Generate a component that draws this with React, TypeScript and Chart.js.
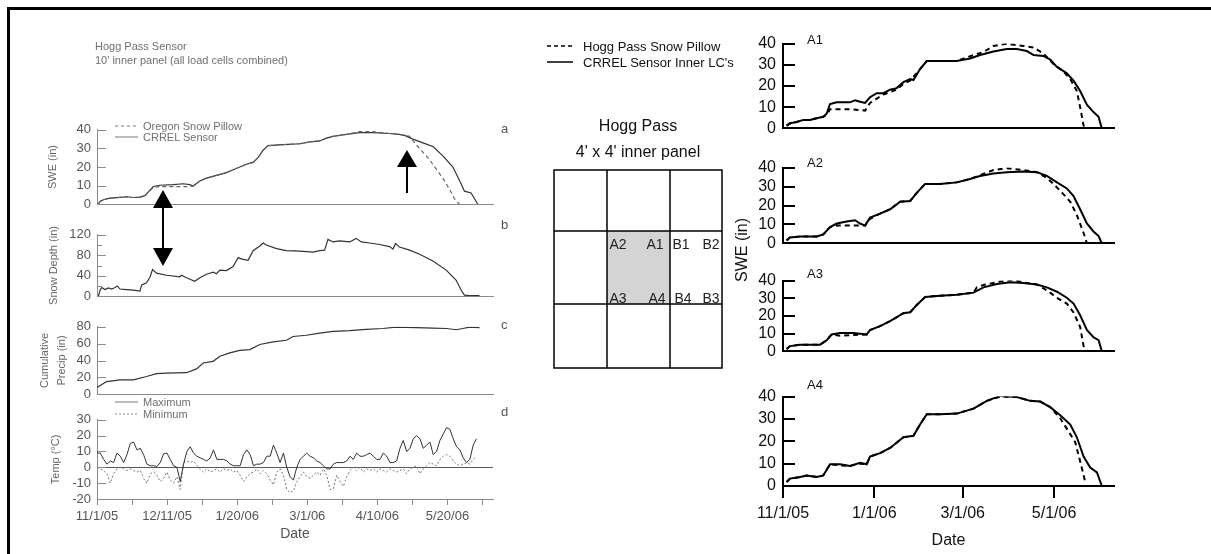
import React, { useEffect, useRef } from "react";
import { Chart, registerables } from "chart.js";

Chart.register(...registerables);

const FONT = "'Liberation Sans', Arial, Helvetica, sans-serif";
Chart.defaults.font.family = FONT;

// ---------------- Left panels (x = days since 11/1/05) ----------------
const leftTickDays = [0, 20, 40, 60, 80, 100, 120, 140, 160, 180, 200, 220];
const leftTickLabels = ["11/1/05", "", "12/11/05", "", "1/20/06", "", "3/1/06", "", "4/10/06", "", "5/20/06", ""];
const LEFT_MAX_DAY = 226;

const sweDaysCrrel = [0.8, 1.7, 3.6, 7.4, 13.1, 16.9, 20.7, 24.5, 27.4, 29.2, 32.1, 35.9, 43.5, 49.2, 53.0, 54.9, 58.7, 62.5, 68.2, 73.9, 77.7, 81.5, 85.3, 89.1, 91.9, 94.8, 97.6, 106.2, 115.7, 121.4, 127.1, 130.9, 134.7, 142.3, 149.9, 157.5, 167.0, 172.7, 175.5, 180.3, 186.0, 191.7, 197.4, 203.1, 207.8, 209.7, 213.5, 217.3];
const sweCrrel = [0, 1.5, 2.4, 3.3, 3.7, 4.0, 3.6, 3.8, 4.6, 6.5, 9.5, 10.2, 10.5, 11.0, 10.5, 9.8, 12.5, 14.0, 15.5, 17.0, 18.5, 20.0, 21.5, 22.5, 25.0, 29.0, 31.5, 32.0, 32.5, 33.5, 34.0, 35.5, 36.5, 37.5, 38.5, 38.5, 38.0, 37.5, 37.0, 35.0, 33.0, 31.0, 26.0, 20.0, 11.0, 7.0, 6.0, 0];
const sweDaysOregon = [0.8, 1.7, 3.6, 7.4, 13.1, 16.9, 20.7, 24.5, 27.4, 29.2, 32.1, 35.9, 43.5, 49.2, 53.0, 54.9, 58.7, 62.5, 68.2, 73.9, 77.7, 81.5, 85.3, 89.1, 91.9, 94.8, 97.6, 106.2, 115.7, 121.4, 127.1, 130.9, 134.7, 142.3, 149.9, 157.5, 167.0, 172.7, 178.4, 182.1, 186.0, 189.7, 193.5, 197.4, 201.2, 204.0, 206.8];
const sweOregon = [0, 1.5, 2.4, 3.3, 3.7, 4.0, 3.6, 3.8, 4.6, 6.5, 9.0, 9.5, 9.5, 9.5, 9.5, 9.8, 12.5, 14.0, 15.5, 17.0, 18.5, 20.0, 21.5, 22.5, 25.0, 29.0, 31.5, 32.0, 32.5, 33.5, 34.0, 35.5, 36.5, 37.5, 39.0, 39.0, 38.0, 37.5, 36.5, 32, 28, 24, 19, 14, 8, 3, 0];

const depthDays = [0.8, 1.7, 2.7, 4.6, 6.5, 8.4, 10.3, 11.6, 13.1, 16.9, 20.7, 24.5, 25.5, 28.3, 30.2, 31.7, 34.0, 39.7, 47.3, 48.2, 51.1, 55.8, 58.7, 62.5, 66.3, 68.2, 70.1, 73.9, 77.7, 80.5, 83.4, 86.2, 89.1, 92.9, 94.8, 96.7, 102.4, 108.1, 115.7, 123.3, 127.1, 129.9, 131.8, 134.7, 138.5, 144.2, 147.9, 150.8, 155.6, 161.3, 167.0, 168.9, 170.4, 172.6, 178.4, 184.1, 191.7, 199.3, 205.0, 207.8, 209.7, 212.6, 218.3];
const snowDepth = [0, 11, 17, 13, 16, 14, 17, 20, 14, 13, 12, 10, 22, 26, 37, 52, 45, 41, 38, 41, 36, 29, 36, 43, 47, 44, 51, 50, 58, 75, 72, 70, 89, 98, 104, 100, 93, 89, 88, 86, 89, 90, 111, 106, 108, 106, 113, 106, 104, 101, 97, 92, 103, 96, 90, 82, 69, 51, 31, 12, 2, 1, 1];

const precipDays = [0, 5.5, 13.1, 20.7, 28.3, 34.0, 39.7, 51.1, 56.8, 60.6, 66.3, 70.1, 75.8, 81.5, 87.2, 92.9, 100.5, 108.1, 111.9, 119.5, 127.1, 134.7, 144.2, 153.7, 163.1, 170.8, 182.1, 191.7, 199.3, 205.0, 208.8, 212.6, 218.3];
const cumPrecip = [8, 15, 17, 17, 21, 24.5, 25, 25.5, 30, 37, 39, 45, 49, 52, 53, 59, 62, 64, 68.5, 70, 72.5, 74.5, 75.5, 77, 78, 79.5, 79, 78.5, 78, 76.5, 78, 79.5, 79];

const tempStepDays = 1.9;
const tempMax = [9, 9, 5, 2, 4, 3, 9, 7, 3, 8, 15, 16, 11, 12, 8, 2, 1, 1, 0.5, 3, 8.5, 9, 5, 1, 0, -9, 2, 10, 13, 9, 7, 6, 5, 4, 6, 11, 5, 5, 5, 4, 2, 1, 1, 1, 8, 11, 8, 1, 2, 2, 3, 7, 7, 14, 9, 3, 9, 0, -6, -8, 0, 5, 7, 9, 7, 6, 4, 3, 1, -1, -1, 2, 3, 3, 3, 4, 7, 5, 9, 7, 7, 8, 9, 7, 5, 5, 9, 7, 3, 3, 4, 12, 17, 10, 12, 18, 20, 18, 12, 14, 16, 8, 10, 17, 21, 25, 24, 18, 13, 11, 6, 3, 5, 14, 18];
const tempMin = [0, -1, -2, -4, -10, -4, -1, 0, -1, -2, -1, -2, -3, -2, -7, -10, -4, -3, -5, -9, -7, -3, -8, -10, -6, -14, 3, 4, 3, 4, 1, -1, -3, -1, -3, -2, -1, -3, -1, -2, -1, -3, -2, -5, -9, -6, -4, -3, -1, -4, -2, -4, -8, -11, -3, -1, -5, -14, -16, -15, -9, -6, -3, -6, -7, -5, -3, -5, -1, -5, -14, -13.5, -5, -9, -12, -6, -2, 0, -2, 0, -3, -1, -2, -1, -3, -1, -2, -3, -1, -2, -3, -2, -1, -4, -1, 0, 1, -4, -1, 1, 3, 2, 1, 5, 7, 8, 7, 4, 2, 1, 2, 3, 2, 5, 7];
const tempDays = tempMax.map((_, i) => i * tempStepDays);

// ---------------- Right panels ----------------
const rightTickDays = [0, 61, 120, 181];
const rightTickLabels = ["11/1/05", "1/1/06", "3/1/06", "5/1/06"];
const RIGHT_MAX_DAY = 221;

const a1SensorDays = [2.4, 4.7, 9.1, 13.6, 18.0, 22.5, 26.9, 29.2, 31.4, 35.9, 44.8, 48.1, 51.4, 54.8, 58.1, 62.6, 67.0, 71.5, 75.9, 80.4, 84.9, 87.1, 91.5, 96.0, 104.9, 116.0, 124.9, 131.6, 140.5, 149.4, 156.1, 162.8, 167.3, 173.9, 178.4, 182.9, 189.5, 194.0, 198.4, 202.9, 207.3, 210.7, 212.9];
const a1Sensor = [1.3, 2.4, 3, 4, 4, 4.8, 5.5, 7, 11.5, 12.3, 12.3, 13.3, 12.6, 12, 14.7, 16.6, 16.6, 18.3, 19, 21.8, 23.3, 22.8, 28, 31.8, 31.8, 31.8, 33, 34.6, 36.3, 37.4, 37.4, 36.5, 34.6, 34.2, 32.5, 29, 26, 22.5, 17.6, 11.2, 7.7, 5.5, 0];
const a1PillowDays = [2.4, 4.7, 9.1, 13.6, 18.0, 22.5, 26.9, 29.2, 31.4, 44.8, 54.8, 58.1, 62.6, 67.0, 75.9, 80.4, 84.9, 91.5, 96.0, 116.0, 127.2, 133.9, 140.5, 149.4, 160.6, 167.3, 173.9, 180.6, 187.3, 191.8, 196.2, 198.4, 200.7, 201.8];
const a1Pillow = [1.3, 2.4, 3, 4, 4, 4.8, 5.5, 6.5, 9, 9, 8.4, 12, 14, 16, 18.3, 21, 22.5, 28, 31.8, 31.8, 34.6, 36, 38.9, 39.9, 38.9, 38.2, 35.3, 30.4, 26.8, 23.3, 17.6, 10, 1.3, 0];

const a2SensorDays = [2.4, 4.7, 11.4, 22.5, 26.9, 31.4, 35.9, 42.5, 48.1, 51.4, 54.8, 58.1, 64.8, 71.5, 78.2, 84.9, 89.3, 94.9, 104.9, 116.0, 124.9, 131.6, 140.5, 149.4, 160.6, 169.5, 176.2, 182.9, 189.5, 194.0, 198.4, 202.9, 207.3, 210.7, 212.9];
const a2Sensor = [1.6, 3.1, 3.6, 3.6, 4.7, 8.6, 10.5, 11.5, 12.2, 10.5, 9.4, 13.6, 15.7, 18, 22, 22.4, 26.7, 31.4, 31.4, 32.2, 34, 35.6, 36.9, 37.6, 38, 37.6, 35.6, 32.2, 29, 25, 18, 10.5, 6.3, 3.9, 0];
const a2PillowDays = [2.4, 4.7, 11.4, 22.5, 26.9, 31.4, 35.9, 47.0, 54.8, 58.1, 64.8, 71.5, 78.2, 84.9, 89.3, 94.9, 104.9, 116.0, 124.9, 131.6, 140.5, 149.4, 160.6, 169.5, 176.2, 180.6, 187.3, 191.8, 196.2, 200.7, 202.9];
const a2Pillow = [1.6, 3.1, 3.6, 3.6, 4.7, 8.6, 9.4, 9.4, 9.4, 13, 15.7, 18, 22, 22.4, 26.7, 31.4, 31.4, 32.2, 34, 36, 38.7, 39.7, 38.7, 37.6, 34.5, 31.4, 25.9, 22, 14.9, 5.5, 0];

const a3SensorDays = [2.4, 4.7, 11.4, 24.7, 29.2, 32.5, 38.1, 47.0, 55.9, 58.1, 64.8, 71.5, 80.4, 84.9, 89.3, 94.9, 104.9, 116.0, 127.2, 133.9, 142.8, 151.7, 160.6, 169.5, 176.2, 182.9, 189.5, 194.0, 198.4, 202.9, 207.3, 210.7, 212.9];
const a3Sensor = [1.3, 3, 3.8, 3.8, 6.3, 9.6, 10.4, 10.4, 9.6, 12.1, 14.3, 17.1, 21.6, 22.1, 26.2, 30.7, 31.5, 32, 33.2, 36.2, 38.1, 39.1, 38.6, 37.8, 36.2, 33.7, 30.3, 27, 20.4, 12.1, 8, 6.3, 0];
const a3PillowDays = [2.4, 4.7, 11.4, 24.7, 29.2, 32.5, 38.1, 47.0, 55.9, 58.1, 64.8, 71.5, 80.4, 84.9, 89.3, 94.9, 104.9, 116.0, 127.2, 129.4, 133.9, 145.0, 153.9, 162.8, 169.5, 176.2, 182.9, 189.5, 194.0, 198.4, 200.7, 202.9];
const a3Pillow = [1.3, 3, 3.8, 3.8, 6.3, 9.6, 8.8, 9.2, 9.6, 12.1, 14.3, 17.1, 21.6, 22.1, 26.2, 30.7, 31.5, 32, 33.2, 36.2, 37.5, 39.5, 40.3, 38.6, 37.8, 34.5, 30.3, 27, 22, 13.8, 3, 0.5];

const a4SensorDays = [2.4, 4.7, 11.4, 15.8, 22.5, 26.9, 31.4, 38.1, 44.8, 51.4, 55.9, 58.1, 64.8, 71.5, 80.4, 87.1, 91.5, 96.0, 104.9, 116.0, 127.2, 136.1, 145.0, 156.1, 165.0, 171.7, 178.4, 185.1, 191.8, 196.2, 200.7, 205.1, 209.6, 212.9];
const a4Sensor = [1.8, 3.3, 4, 4.7, 4, 4.7, 9.7, 9.7, 9, 10.4, 9.7, 13.2, 14.7, 17, 21.8, 22.5, 27.5, 32.1, 32.1, 32.4, 34.6, 38.1, 40.3, 39.8, 38.1, 37.8, 35.3, 31.7, 27.5, 21.8, 13.2, 8.3, 6.1, 0];
const a4PillowDays = [2.4, 4.7, 11.4, 15.8, 22.5, 26.9, 31.4, 38.1, 44.8, 51.4, 55.9, 58.1, 64.8, 71.5, 80.4, 87.1, 91.5, 96.0, 104.9, 116.0, 127.2, 136.1, 145.0, 156.1, 165.0, 171.7, 178.4, 185.1, 191.8, 195.1, 198.4, 201.8];
const a4Pillow = [1.8, 3.3, 4, 4.7, 4, 4.7, 9.7, 9.2, 9, 10, 9.7, 13.2, 14.7, 17, 21.8, 22.5, 27.5, 32.1, 32.1, 32.4, 34.6, 38.1, 40, 39.8, 38.1, 37.8, 35.3, 30.3, 23.2, 19.6, 11.1, 1.8];

// ---------------- helpers ----------------
const pts = (xs: number[], ys: number[]) => xs.map((x, i) => ({ x, y: ys[i] }));

const inwardTicks = {
  id: "inwardTicks",
  afterDraw(chart: any, _args: any, opts: any) {
    const y = chart.scales.y;
    const { ctx, chartArea } = chart;
    const off = opts.width % 2 === 1 ? 0.5 : 0;
    const majors: number[] = y.ticks.map((t: any) => t.value);
    ctx.save();
    ctx.strokeStyle = opts.color;
    ctx.lineWidth = opts.width;
    ctx.beginPath();
    majors.forEach((v) => {
      const py = Math.round(y.getPixelForValue(v)) + off;
      ctx.moveTo(chartArea.left, py);
      ctx.lineTo(chartArea.left + opts.length, py);
    });
    if (opts.minorStep) {
      for (let v = y.min; v <= y.max + 1e-9; v += opts.minorStep) {
        if (majors.some((m) => Math.abs(m - v) < 1e-9)) continue;
        const py = Math.round(y.getPixelForValue(v)) + off;
        ctx.moveTo(chartArea.left, py);
        ctx.lineTo(chartArea.left + opts.minorLength, py);
      }
    }
    ctx.stroke();
    ctx.restore();
  },
};

const LEFT_X = 20, LEFT_Y_W = 77, LEFT_PLOT_W = 396, LEFT_PAD_R = 4, LEFT_PAD_T = 10;
const RIGHT_X = 743, RIGHT_Y_W = 40, RIGHT_PLOT_W = 331, RIGHT_PAD_R = 4, RIGHT_PAD_T = 12;
const LEFT_GRAY = "#8a8a8a";

function leftConfig(o: any) {
  const showX = !!o.showX;
  return {
    type: "line",
    data: { datasets: o.datasets },
    options: {
      animation: false, responsive: false, maintainAspectRatio: false, events: [],
      layout: { padding: { top: LEFT_PAD_T, right: LEFT_PAD_R, left: 0, bottom: 0 } },
      plugins: {
        legend: { display: false }, tooltip: { enabled: false },
        inwardTicks: { length: 9, width: 1, color: LEFT_GRAY, minorStep: o.minorStep, minorLength: 5 },
      },
      elements: { point: { radius: 0 }, line: { tension: 0 } },
      scales: {
        x: {
          type: "linear", min: 0, max: LEFT_MAX_DAY,
          afterFit: (s: any) => { s.height = o.xH; },
          afterBuildTicks: (s: any) => { s.ticks = leftTickDays.map((v) => ({ value: v })); },
          ticks: { display: showX, autoSkip: false, maxRotation: 0, padding: 4, color: "#555", font: { size: 13 }, callback: (_v: any, i: number) => leftTickLabels[i] },
          grid: { display: showX, drawOnChartArea: false, drawTicks: showX, tickLength: 6, color: LEFT_GRAY },
          border: { display: true, color: LEFT_GRAY, width: 1 },
          title: { display: showX, text: "Date", color: "#555", font: { size: 14 }, padding: 0 },
        },
        y: {
          min: o.yMin, max: o.yMax,
          afterFit: (s: any) => { s.width = LEFT_Y_W; },
          ticks: { stepSize: o.yStep, autoSkip: false, padding: 6, color: "#555", font: { size: 13 } },
          grid: o.zeroLine
            ? { display: true, drawTicks: false, color: (c: any) => (c.tick && c.tick.value === 0 ? "#5a5a5a" : "rgba(0,0,0,0)") }
            : { display: false, drawTicks: false },
          border: { display: true, color: LEFT_GRAY, width: 1 },
          title: { display: true, text: o.title, color: "#666", font: { size: 11, lineHeight: o.titleLH || 1.2 }, padding: { top: o.titlePad, bottom: 0 } },
        },
      },
    },
    plugins: [inwardTicks],
  };
}

function rightConfig(sDays: number[], sVals: number[], pDays: number[], pVals: number[], showX: boolean, xH: number) {
  return {
    type: "line",
    data: {
      datasets: [
        { data: pts(sDays, sVals), borderColor: "#000", borderWidth: 2 },
        { data: pts(pDays, pVals), borderColor: "#000", borderWidth: 2, borderDash: [5, 4] },
      ],
    },
    options: {
      animation: false, responsive: false, maintainAspectRatio: false, events: [],
      layout: { padding: { top: RIGHT_PAD_T, right: RIGHT_PAD_R, left: 0, bottom: 0 } },
      plugins: { legend: { display: false }, tooltip: { enabled: false }, inwardTicks: { length: 12, width: 2, color: "#000" } },
      elements: { point: { radius: 0 }, line: { tension: 0 } },
      scales: {
        x: {
          type: "linear", min: 0, max: RIGHT_MAX_DAY,
          afterFit: (s: any) => { s.height = xH; },
          afterBuildTicks: (s: any) => { s.ticks = rightTickDays.map((v) => ({ value: v })); },
          ticks: { display: showX, autoSkip: false, maxRotation: 0, padding: 6, color: "#111", font: { size: 16 }, callback: (_v: any, i: number) => rightTickLabels[i] },
          grid: { display: showX, drawOnChartArea: false, drawTicks: showX, tickLength: 12, lineWidth: 2, color: "#000" },
          border: { display: true, color: "#000", width: 2 },
          title: { display: showX, text: "Date", color: "#111", font: { size: 16 }, padding: 0 },
        },
        y: {
          min: 0, max: 40,
          afterFit: (s: any) => { s.width = RIGHT_Y_W; },
          ticks: { stepSize: 10, autoSkip: false, padding: 7, color: "#111", font: { size: 16 } },
          grid: { display: false, drawTicks: false },
          border: { display: true, color: "#000", width: 2 },
        },
      },
    },
    plugins: [inwardTicks],
  };
}

function ChartBox({ left, top, width, height, make }: any) {
  const ref = useRef<HTMLCanvasElement>(null);
  useEffect(() => {
    const chart = new Chart(ref.current as HTMLCanvasElement, make());
    return () => chart.destroy();
  }, []);
  return <canvas ref={ref} width={width} height={height} style={{ position: "absolute", left, top, width, height }} />;
}

function Txt({ x, y, size, color, children, center, rotate }: any) {
  const tx = center || rotate ? "-50%" : "0";
  return (
    <div
      style={{
        position: "absolute", left: x, top: y, fontFamily: FONT, fontSize: size, color,
        whiteSpace: "nowrap", lineHeight: 1,
        transform: `translate(${tx}, -50%)${rotate ? " rotate(-90deg)" : ""}`,
      }}
    >
      {children}
    </div>
  );
}

const leftW = LEFT_Y_W + LEFT_PLOT_W + LEFT_PAD_R;
const rightW = RIGHT_Y_W + RIGHT_PLOT_W + RIGHT_PAD_R;
const LG = "#707070";

export default function App() {
  return (
    <div style={{ position: "absolute", left: 0, top: 0, width: 1211, height: 554, overflow: "hidden", background: "#fff" }}>
      <div style={{ position: "absolute", left: 7, top: 7, width: 1300, height: 700, borderTop: "3px solid #000", borderLeft: "3px solid #000" }} />

      {/* Left panels */}
      <ChartBox left={LEFT_X} top={116} width={leftW} height={LEFT_PAD_T + 82 + 10}
        make={() => leftConfig({
          datasets: [
            { data: pts(sweDaysOregon, sweOregon), borderColor: "#666", borderWidth: 1.2, borderDash: [4, 3] },
            { data: pts(sweDaysCrrel, sweCrrel), borderColor: "#333", borderWidth: 1.2 },
          ],
          yMin: 0, yMax: 40, yStep: 10, title: "SWE (in)", titlePad: 26, xH: 10,
        })} />
      <ChartBox left={LEFT_X} top={221} width={leftW} height={LEFT_PAD_T + 69 + 10}
        make={() => leftConfig({
          datasets: [{ data: pts(depthDays, snowDepth), borderColor: "#333", borderWidth: 1.2 }],
          yMin: 0, yMax: 120, yStep: 40, minorStep: 20, title: "Snow Depth (in)", titlePad: 27, xH: 10,
        })} />
      <ChartBox left={LEFT_X} top={313} width={leftW} height={LEFT_PAD_T + 75 + 10}
        make={() => leftConfig({
          datasets: [{ data: pts(precipDays, cumPrecip), borderColor: "#333", borderWidth: 1.2 }],
          yMin: 0, yMax: 80, yStep: 20, title: ["Cumulative", "Precip (in)"], titleLH: 1.5, titlePad: 17, xH: 10,
        })} />
      <ChartBox left={LEFT_X} top={406} width={leftW} height={LEFT_PAD_T + 83 + 44}
        make={() => leftConfig({
          datasets: [
            { data: pts(tempDays, tempMax), borderColor: "#333", borderWidth: 1 },
            { data: pts(tempDays, tempMin), borderColor: "#777", borderWidth: 1, borderDash: [2, 2] },
          ],
          yMin: -20, yMax: 30, yStep: 10, title: "Temp (°C)", titlePad: 29, zeroLine: true, showX: true, xH: 44,
        })} />

      {/* Right panels */}
      <ChartBox left={RIGHT_X} top={27} width={rightW} height={RIGHT_PAD_T + 94 + 12}
        make={() => rightConfig(a1SensorDays, a1Sensor, a1PillowDays, a1Pillow, false, 12)} />
      <ChartBox left={RIGHT_X} top={151} width={rightW} height={RIGHT_PAD_T + 85 + 12}
        make={() => rightConfig(a2SensorDays, a2Sensor, a2PillowDays, a2Pillow, false, 12)} />
      <ChartBox left={RIGHT_X} top={264} width={rightW} height={RIGHT_PAD_T + 80 + 12}
        make={() => rightConfig(a3SensorDays, a3Sensor, a3PillowDays, a3Pillow, false, 12)} />
      <ChartBox left={RIGHT_X} top={380} width={rightW} height={RIGHT_PAD_T + 94 + 64}
        make={() => rightConfig(a4SensorDays, a4Sensor, a4PillowDays, a4Pillow, true, 64)} />

      {/* Graphics: arrows, legend samples, diagram */}
      <svg width={1211} height={554} style={{ position: "absolute", left: 0, top: 0, pointerEvents: "none" }}>
        <line x1={407} y1={193} x2={407} y2={165} stroke="#000" strokeWidth={2} />
        <polygon points="407,150 397,167 417,167" fill="#000" />
        <line x1={163} y1={205} x2={163} y2={250} stroke="#000" strokeWidth={2} />
        <polygon points="163,190 153,208 173,208" fill="#000" />
        <polygon points="163,266 153,248 173,248" fill="#000" />
        <line x1={115} y1={126} x2={138} y2={126} stroke="#777" strokeWidth={1} strokeDasharray="3,3" />
        <line x1={115} y1={137} x2={138} y2={137} stroke="#777" strokeWidth={1} />
        <line x1={115} y1={402} x2={138} y2={402} stroke="#777" strokeWidth={1} />
        <line x1={115} y1={414} x2={138} y2={414} stroke="#888" strokeWidth={1} strokeDasharray="2,2" />
        <line x1={547} y1={46} x2={573} y2={46} stroke="#000" strokeWidth={1.5} strokeDasharray="4,3" />
        <line x1={547} y1={62} x2={573} y2={62} stroke="#000" strokeWidth={1.5} />
        <rect x={607} y={231} width={63} height={73} fill="#d4d4d4" />
        <rect x={554} y={170} width={168} height={198} fill="none" stroke="#000" strokeWidth={1.5} />
        <line x1={607} y1={170} x2={607} y2={368} stroke="#000" strokeWidth={1.5} />
        <line x1={670} y1={170} x2={670} y2={368} stroke="#000" strokeWidth={1.5} />
        <line x1={554} y1={231} x2={722} y2={231} stroke="#000" strokeWidth={1.5} />
        <line x1={554} y1={304} x2={722} y2={304} stroke="#000" strokeWidth={1.5} />
        <g fontFamily={FONT} fontSize={14} fill="#222" textAnchor="middle" dominantBaseline="central">
          <text x={618} y={244}>A2</text>
          <text x={655} y={244}>A1</text>
          <text x={681} y={244}>B1</text>
          <text x={711} y={244}>B2</text>
          <text x={618} y={298}>A3</text>
          <text x={657} y={298}>A4</text>
          <text x={683} y={298}>B4</text>
          <text x={711} y={298}>B3</text>
        </g>
      </svg>

      {/* Left texts */}
      <Txt x={95} y={46} size={11} color={LG}>Hogg Pass Sensor</Txt>
      <Txt x={95} y={60} size={11} color={LG}>10' inner panel (all load cells combined)</Txt>
      <Txt x={143} y={126} size={11} color={LG}>Oregon Snow Pillow</Txt>
      <Txt x={143} y={137} size={11} color={LG}>CRREL Sensor</Txt>
      <Txt x={143} y={402} size={11} color={LG}>Maximum</Txt>
      <Txt x={143} y={414} size={11} color={LG}>Minimum</Txt>
      <Txt x={501} y={128} size={13} color="#555">a</Txt>
      <Txt x={501} y={224} size={13} color="#555">b</Txt>
      <Txt x={501} y={324} size={13} color="#555">c</Txt>
      <Txt x={501} y={411} size={13} color="#555">d</Txt>

      {/* Center texts */}
      <Txt x={583} y={46} size={13} color="#111">Hogg Pass Snow Pillow</Txt>
      <Txt x={583} y={62} size={13} color="#111">CRREL Sensor Inner LC's</Txt>
      <Txt x={638} y={126} size={16} color="#111" center>Hogg Pass</Txt>
      <Txt x={638} y={152} size={16} color="#111" center>4' x 4' inner panel</Txt>

      {/* Right texts */}
      <Txt x={807} y={39} size={13} color="#111">A1</Txt>
      <Txt x={807} y={162} size={13} color="#111">A2</Txt>
      <Txt x={807} y={273} size={13} color="#111">A3</Txt>
      <Txt x={807} y={384} size={13} color="#111">A4</Txt>
      <Txt x={742} y={250} size={16} color="#111" rotate>SWE (in)</Txt>
    </div>
  );
}
